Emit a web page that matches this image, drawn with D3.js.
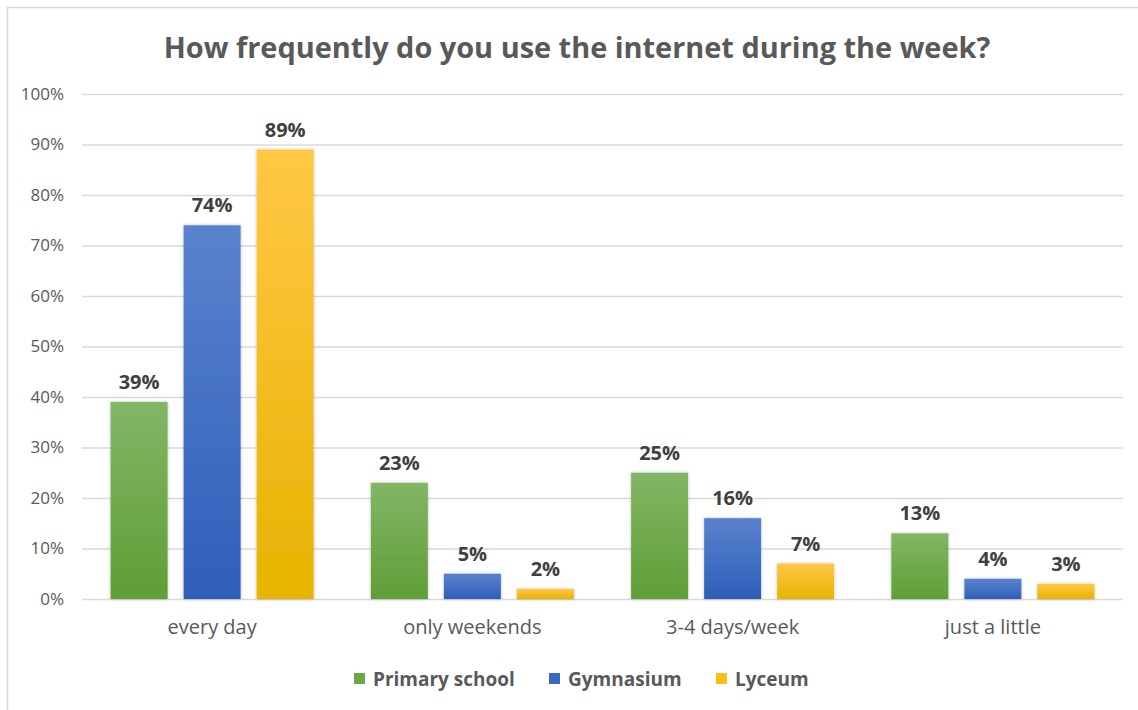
<!DOCTYPE html>
<html>
<head>
<meta charset="utf-8">
<script src="https://cdn.jsdelivr.net/npm/d3@7"></script>
<style>
  html, body { margin: 0; padding: 0; background: #fff; }
  svg { display: block; }
  text { font-family: "Open Sans", "Liberation Sans", sans-serif; }
</style>
</head>
<body>
<svg id="chart" width="1138" height="710"></svg>
<script>
// Survey results: share of students by how often they go online
const title = "How frequently do you use the internet during the week?";
const categories = ["every day", "only weekends", "3-4 days/week", "just a little"];
const seriesNames = ["Primary school", "Gymnasium", "Lyceum"];
const primarySchool = [39, 23, 25, 13];
const gymnasium = [74, 5, 16, 4];
const lyceum = [89, 2, 7, 3];
const yTicks = [0, 10, 20, 30, 40, 50, 60, 70, 80, 90, 100];

const seriesValues = [primarySchool, gymnasium, lyceum];
const colors = [
  { top: "#82b665", bottom: "#5f9e37", swatch: "#6aa843" },
  { top: "#5a82cd", bottom: "#2e5fba", swatch: "#3a69c0" },
  { top: "#ffc845", bottom: "#e6b300", swatch: "#fbbf12" }
];

const svg = d3.select("#chart");
const W = 1138, H = 710;
const margin = { left: 82, right: 15, top: 94, bottom: 111 };

// Fit a text element to a given width by adjusting its font size
function fitWidth(sel, basePx, width) {
  const w = sel.node().getComputedTextLength();
  sel.style("font-size", (basePx * width / w).toFixed(2) + "px");
}

// Chart frame
svg.append("rect")
  .attr("x", 7.5).attr("y", 7.5)
  .attr("width", W + 10).attr("height", H - 6)
  .attr("fill", "#fff").attr("stroke", "#d9d9d9").attr("stroke-width", 1.5);

const defs = svg.append("defs");
colors.forEach((c, i) => {
  const g = defs.append("linearGradient")
    .attr("id", "grad" + i).attr("x1", 0).attr("y1", 0).attr("x2", 0).attr("y2", 1);
  g.append("stop").attr("offset", "0%").attr("stop-color", c.top);
  g.append("stop").attr("offset", "100%").attr("stop-color", c.bottom);
});
const shadow = defs.append("filter").attr("id", "shadow")
  .attr("x", "-20%").attr("y", "-20%").attr("width", "140%").attr("height", "140%");
shadow.append("feDropShadow")
  .attr("dx", 0).attr("dy", 0).attr("stdDeviation", 1.6)
  .attr("flood-color", "#000").attr("flood-opacity", 0.28);

const x0 = d3.scaleBand()
  .domain(categories)
  .range([margin.left, W - margin.right])
  .paddingInner(0.22).paddingOuter(0.11);
const x1 = d3.scaleBand()
  .domain(d3.range(seriesNames.length))
  .range([0, x0.bandwidth()])
  .paddingInner(0.22);
const y = d3.scaleLinear().domain([0, 100]).range([H - margin.bottom, margin.top]);

// Gridlines and y labels
const yAxis = d3.axisLeft(y)
  .tickValues(yTicks)
  .tickSize(-(W - margin.right - margin.left))
  .tickPadding(18)
  .tickFormat(d => d + "%");
const gy = svg.append("g")
  .attr("transform", `translate(${margin.left},0)`)
  .call(yAxis);
gy.select(".domain").remove();
gy.selectAll(".tick line").attr("stroke", "#d9d9d9").attr("stroke-width", 1.5);
gy.selectAll(".tick text")
  .attr("fill", "#595959").attr("font-size", null).style("font-size", "17px");

// Category labels
const xAxis = d3.axisBottom(x0).tickSize(0).tickPadding(21);
const gx = svg.append("g")
  .attr("transform", `translate(0,${H - margin.bottom})`)
  .call(xAxis);
gx.select(".domain").remove();
gx.selectAll(".tick text")
  .attr("fill", "#595959").attr("font-size", null).style("font-size", "20px");

// Bars
const rows = categories.map((c, ci) => ({
  category: c,
  values: seriesValues.map((s, si) => ({ si, value: s[ci] }))
}));
const groups = svg.append("g").selectAll("g")
  .data(rows).join("g")
  .attr("transform", d => `translate(${x0(d.category)},0)`);
groups.selectAll("rect")
  .data(d => d.values).join("rect")
  .attr("x", d => x1(d.si))
  .attr("width", x1.bandwidth())
  .attr("y", d => y(d.value))
  .attr("height", d => y(0) - y(d.value))
  .attr("fill", d => `url(#grad${d.si})`)
  .attr("filter", "url(#shadow)");
groups.selectAll("text.value")
  .data(d => d.values).join("text")
  .attr("class", "value")
  .attr("x", d => x1(d.si) + x1.bandwidth() / 2)
  .attr("y", d => y(d.value) - 13)
  .attr("text-anchor", "middle")
  .attr("fill", "#404040")
  .style("font-size", "20px").style("font-weight", "bold")
  .text(d => d.value + "%");

// Title
const t = svg.append("text")
  .attr("x", 577).attr("y", 58)
  .attr("text-anchor", "middle")
  .attr("fill", "#595959")
  .style("font-size", "25px").style("font-weight", "bold")
  .text(title);
fitWidth(t, 25, 827);

// Legend
const legend = svg.append("g");
const legendItems = [
  { x: 354, name: seriesNames[0] },
  { x: 549, name: seriesNames[1] },
  { x: 716, name: seriesNames[2] }
];
legendItems.forEach((item, i) => {
  legend.append("rect")
    .attr("x", item.x).attr("y", 673)
    .attr("width", 11).attr("height", 11)
    .attr("fill", colors[i].swatch);
  legend.append("text")
    .attr("x", item.x + 19).attr("y", 686)
    .attr("fill", "#595959")
    .style("font-size", "19px").style("font-weight", "bold")
    .text(item.name);
});
</script>
</body>
</html>
